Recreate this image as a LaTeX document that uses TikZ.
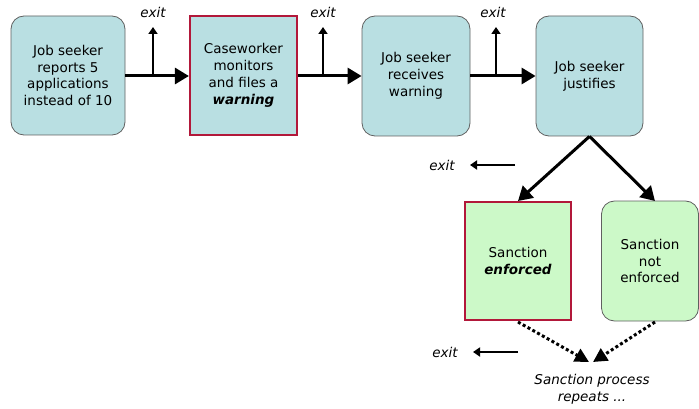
\documentclass[tikz,border=0pt]{standalone}
\usepackage{fontspec}
\setmainfont{DejaVu Sans}
\usetikzlibrary{arrows.meta}
\definecolor{boxblue}{HTML}{B9DFE2}
\definecolor{boxgreen}{HTML}{CCF9C8}
\definecolor{boxred}{HTML}{B2183A}
\definecolor{boxgray}{HTML}{606060}
\tikzset{
  base/.style={minimum width=#1, align=center, inner sep=0pt,
    font=\fontsize{13.5}{16.8}\selectfont},
  rbox/.style={base=108pt, draw=boxgray, line width=0.8pt, rounded corners=13pt, minimum height=120pt},
  sbox/.style={base=108pt, draw=boxred, line width=2.2pt, minimum height=120pt},
  mainarrow/.style={line width=3pt, -{Triangle[length=14pt,width=16pt]}},
  exitarrow/.style={line width=2pt, -{Triangle[length=7pt,width=9pt]}},
  dotarrow/.style={line width=3pt, dash pattern=on 3pt off 2.5pt, -{Triangle[length=14pt,width=14pt]}},
  exitlabel/.style={font=\fontsize{13.5}{16}\selectfont\itshape, inner sep=0pt},
}
\begin{document}
\begin{tikzpicture}[x=1pt,y=-1pt]
\useasboundingbox (0,0) rectangle (699,409);
\node[rbox, fill=boxblue, minimum width=114pt, minimum height=119pt] (b1) at (68,75.5) {Job seeker\\reports 5\\applications\\instead of 10};
\node[sbox, fill=boxblue, minimum width=107pt, minimum height=119pt] (b2) at (243.5,75.5) {Caseworker\\monitors\\and files a\\\textbf{\textit{warning}}};
\node[rbox, fill=boxblue] (b3) at (416,76) {Job seeker\\receives\\warning};
\node[rbox, fill=boxblue, minimum width=107pt] (b4) at (589.5,76) {Job seeker\\justifies};
\node[sbox, fill=boxgreen, minimum width=106pt, minimum height=118pt] (b5) at (518,261) {Sanction\\\textbf{\textit{enforced}}};
\node[rbox, fill=boxgreen, minimum width=97pt] (b6) at (650,261) {Sanction\\not\\enforced};

\draw[mainarrow] (b1.east |- 0,76) -- (b2.west |- 0,76);
\draw[mainarrow] (b2.east |- 0,76) -- (b3.west |- 0,76);
\draw[mainarrow] (b3.east |- 0,76) -- (b4.west |- 0,76);

\coordinate (e1) at (153,76);
\coordinate (e1t) at (153,27);
\coordinate (e2) at (323,76);
\coordinate (e2t) at (323,27);
\coordinate (e3) at (496,76);
\coordinate (e3t) at (496,27);
\draw[exitarrow] (e1) -- (e1t);
\draw[exitarrow] (e2) -- (e2t);
\draw[exitarrow] (e3) -- (e3t);
\node[exitlabel] (l1) at (153,12) {exit};
\node[exitlabel] (l2) at (323,12) {exit};
\node[exitlabel] (l3) at (493,12) {exit};

\coordinate (t5) at (518,201);
\coordinate (t6) at (655,201);
\draw[mainarrow] (b4.south) -- (t5);
\draw[mainarrow] (b4.south) -- (t6);

\node[exitlabel] (l4) at (442,165) {exit};
\coordinate (x4s) at (515,165);
\coordinate (x4e) at (470,165);
\draw[exitarrow] (x4s) -- (x4e);
\node[exitlabel] (l5) at (445,352) {exit};
\coordinate (x5s) at (518,352);
\coordinate (x5e) at (473,352);
\draw[exitarrow] (x5s) -- (x5e);

\coordinate (d5) at (518,322);
\coordinate (d6) at (655,322);
\coordinate (m5) at (589,362);
\coordinate (m6) at (593,362);
\draw[dotarrow] (d5) -- (m5);
\draw[dotarrow] (d6) -- (m6);
\node[font=\fontsize{13.5}{17}\selectfont\itshape, align=center, inner sep=0pt] (rep) at (592,389.5) {Sanction process\\repeats ...};
\end{tikzpicture}
\end{document}
